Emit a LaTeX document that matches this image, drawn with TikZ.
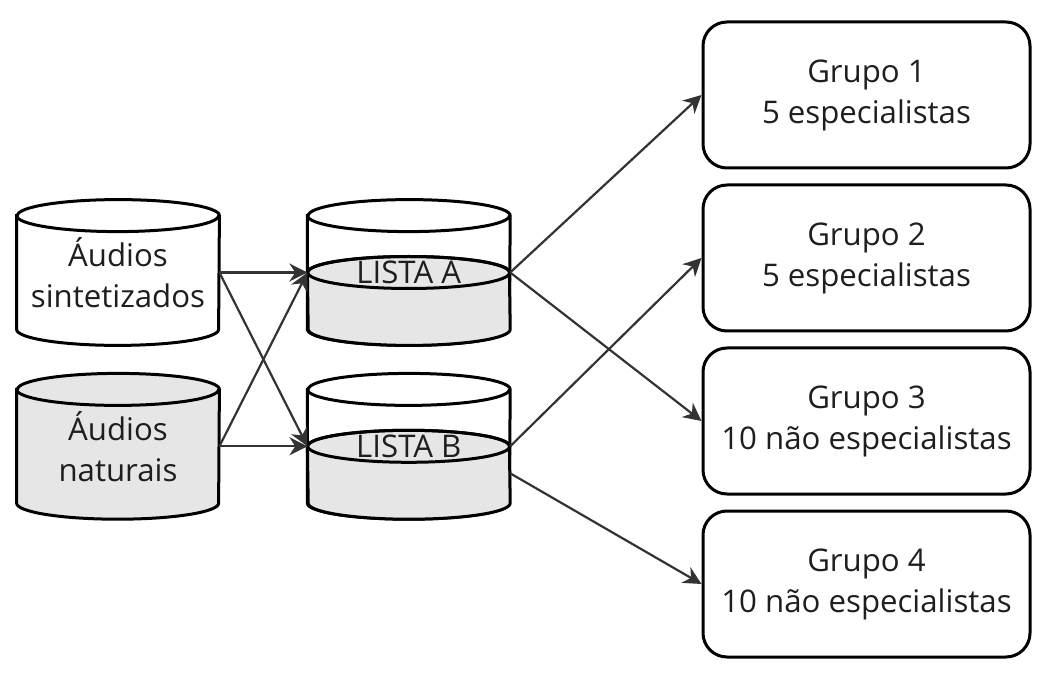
\documentclass[tikz,border=0pt]{standalone}
\usepackage{fontspec}
\setmainfont{Open Sans}
\usetikzlibrary{positioning, arrows.meta, calc, backgrounds}
\definecolor{drumgray}{HTML}{E6E6E6}
\definecolor{linkgray}{HTML}{333333}
\definecolor{labelgray}{HTML}{1E1E1E}

\begin{document}
\begin{tikzpicture}[x=0.5pt,y=0.5pt,font=\fontsize{15.6}{20.5}\selectfont,text=labelgray]
\tikzstyle{drum} = [rectangle, 
minimum width=101pt, 
minimum height=72.5pt, 
inner sep=0pt, 
align=center]

\tikzstyle{group} = [rectangle, rounded corners=12pt, 
minimum width=163.5pt, 
minimum height=73pt, 
align=center, 
line width=1.5pt,
draw=black]

\tikzstyle{outline} = [line width=1.5pt, draw=black]
\tikzstyle{arrow} = [line width=1.1pt, draw=linkgray, -{Stealth[length=9pt,width=9pt]}]

\useasboundingbox (0,0) rectangle (1042,-683);

\node (synt) [drum] at (118,-272.5) {Áudios\\sintetizados};
\node (nat) [drum, below=14pt of synt] {Áudios\\naturais};
\node (listaA) [drum, right=44pt of synt] {LISTA A};
\node (listaB) [drum, right=44pt of nat] {LISTA B};

\node (g1) [group] at (866.5,-95) {Grupo 1\\5 especialistas};
\node (g2) [group, below=7pt of g1] {Grupo 2\\5 especialistas};
\node (g3) [group, below=7pt of g2] {Grupo 3\\10 não especialistas};
\node (g4) [group, below=7pt of g3] {Grupo 4\\10 não especialistas};

% drum outlines behind the text
\begin{pgfonlayer}{background}
\foreach \n/\c in {synt/white, nat/drumgray, listaA/white, listaB/white} {
  \path [outline, fill=\c] ($(\n.north west)+(0,-8pt)$) -- ($(\n.south west)+(0,8pt)$)
    arc[start angle=180, end angle=360, x radius=50.5pt, y radius=8pt]
    -- ($(\n.north east)+(0,-8pt)$)
    arc[start angle=0, end angle=180, x radius=50.5pt, y radius=8pt] -- cycle;
  \draw [outline] ($(\n.north west)+(0,-8pt)$)
    arc[start angle=180, end angle=360, x radius=50.5pt, y radius=8pt];
}
\foreach \n in {listaA, listaB} {
  \path [outline, fill=drumgray] (\n.west)
    arc[start angle=180, end angle=0, x radius=50.5pt, y radius=8pt]
    -- ($(\n.south east)+(0,8pt)$)
    arc[start angle=0, end angle=-180, x radius=50.5pt, y radius=8pt] -- cycle;
  \draw [outline] (\n.center) ellipse [x radius=50.5pt, y radius=8pt];
}
\end{pgfonlayer}

\draw [arrow] (synt.east) -- (listaA.west);
\draw [arrow] (synt.east) -- (listaB.west);
\draw [arrow] (nat.east) -- (listaB.west);
\draw [arrow] (nat.east) -- (listaA.west);
\draw [arrow] (listaA.east) -- (g1.west);
\draw [arrow] (listaA.east) -- (g3.west);
\draw [arrow] (listaB.east) -- (g2.west);
\draw [arrow] ([yshift=-13.5pt]listaB.east) -- (g4.west);

\end{tikzpicture}
\end{document}
